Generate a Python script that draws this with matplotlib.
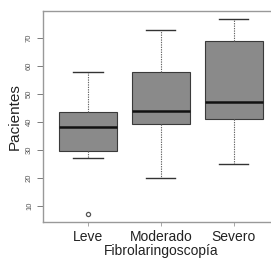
import matplotlib
matplotlib.use("Agg")
import matplotlib.pyplot as plt

# datos
grupos = ["Leve", "Moderado", "Severo"]
bigote_inf = [27, 20, 25]
q1 = [29.6, 39.1, 41.1]
mediana = [38.1, 44, 47.3]
q3 = [43.5, 58, 69]
bigote_sup = [58, 73, 77]
atipicos = [[7], [], []]
yticks = [10, 20, 30, 40, 50, 60, 70]

plt.rcParams['font.family'] = ['Liberation Sans', 'DejaVu Sans']

fig = plt.figure(figsize=(2.71, 2.63), dpi=100)
ax = fig.add_axes([0.1576, 0.156, 0.872, 0.803])

stats = []
for i in range(len(grupos)):
    stats.append({"label": grupos[i], "whislo": bigote_inf[i], "q1": q1[i],
                  "med": mediana[i], "q3": q3[i], "whishi": bigote_sup[i],
                  "fliers": atipicos[i]})

ax.bxp(stats, positions=[1, 2, 3], widths=0.8, patch_artist=True,
       boxprops=dict(facecolor="#8a8a8a", edgecolor="#3a3a3a", linewidth=0.8),
       medianprops=dict(color="#111111", linewidth=1.8),
       whiskerprops=dict(color="#666666", linestyle=(0, (1.2, 1.0)), linewidth=0.8),
       capprops=dict(color="#333333", linewidth=1.0),
       flierprops=dict(marker="o", markersize=3, markerfacecolor="none",
                       markeredgecolor="#555555", markeredgewidth=0.9))

ax.set_xlim(0.38, 3.62)
ax.set_ylim(4.2, 79.8)
ax.set_yticks(yticks)
ax.set_yticklabels([str(v) for v in yticks], rotation=90, va="center",
                   fontsize=5.5, color="#555555")
ax.set_xticks([1, 2, 3])
ax.set_xticklabels(grupos, fontsize=10, color="#222222")
ax.tick_params(axis="y", length=4, width=0.6, color="#666666", pad=3)
ax.tick_params(axis="x", length=3, width=0.6, color="#999999", pad=3)
for s in ax.spines.values():
    s.set_color("#999999")
    s.set_linewidth(1)
ax.spines["right"].set_visible(False)

ax.set_xlabel("Fibrolaringoscopía", fontsize=10, color="#222222", labelpad=0)
ax.set_ylabel("Pacientes", fontsize=11, color="#222222", labelpad=3)

fig.savefig("out.png", dpi=100)
